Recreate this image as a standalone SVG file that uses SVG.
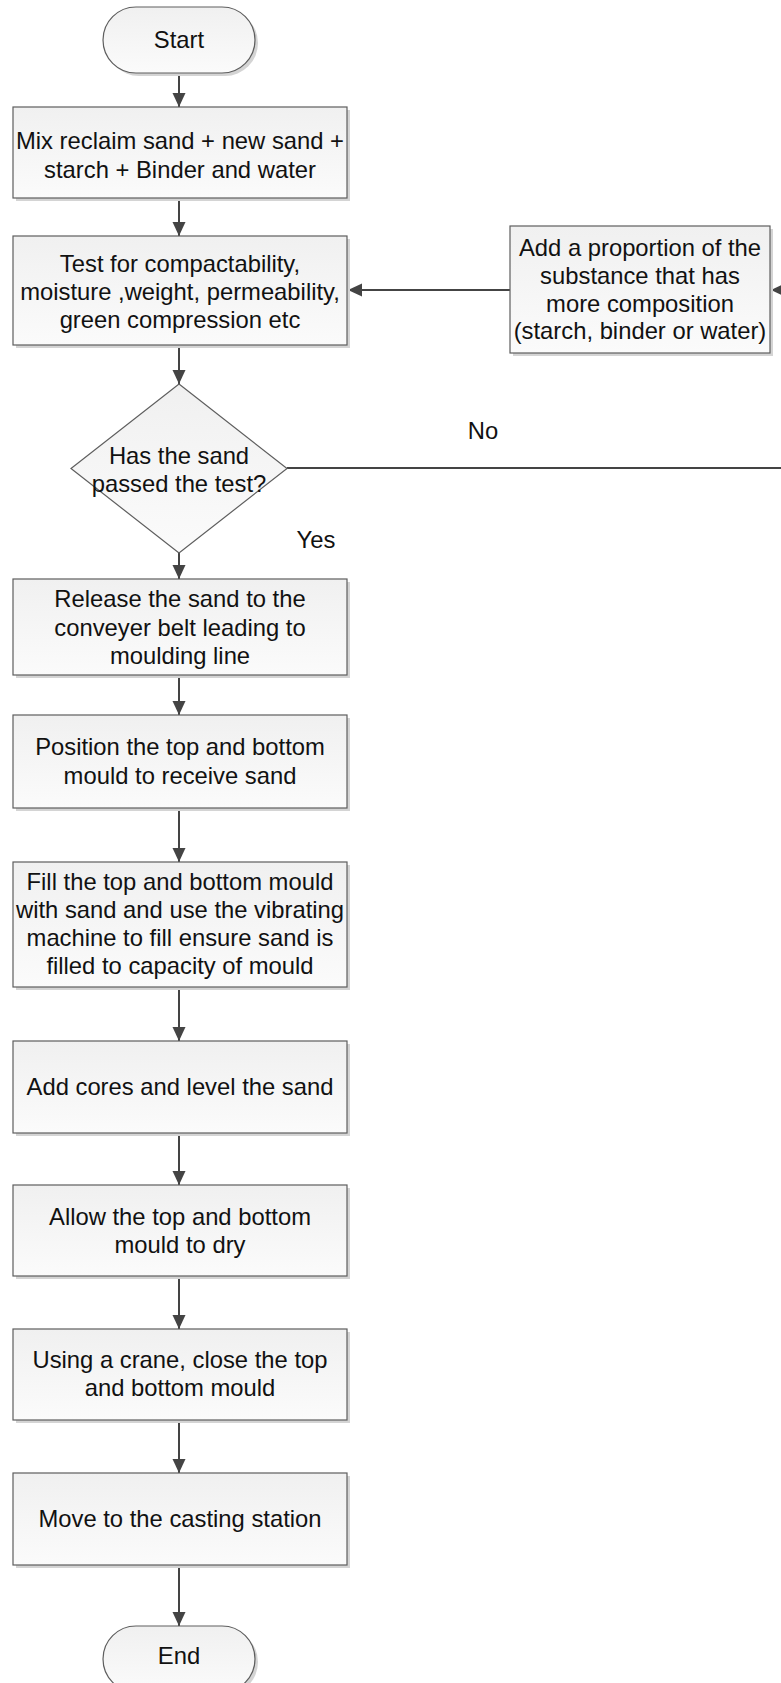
<svg xmlns="http://www.w3.org/2000/svg" width="781" height="1683" viewBox="0 0 781 1683">
  <style>
    .shape { stroke: #5e5e5e; stroke-width: 1.2; fill: url(#fillGrad); }
    .shadow { fill: #d4d4d4; stroke: none; }
    .label { font-family: "Liberation Sans", Arial, sans-serif; font-size: 23.8px; fill: #111; text-anchor: middle; }
    .conn { stroke: #444; stroke-width: 2; fill: none; }
  </style>
  <defs>
    <linearGradient id="fillGrad" x1="0" y1="0" x2="0" y2="1">
      <stop offset="0" stop-color="#f0f0f0"/>
      <stop offset="1" stop-color="#fbfbfb"/>
    </linearGradient>
    <marker id="arrow" markerUnits="userSpaceOnUse" markerWidth="15" markerHeight="15" viewBox="0 0 15 15" refX="14" refY="7.5" orient="auto">
      <path d="M0,1 L14,7.5 L0,14 Z" fill="#444"/>
    </marker>
  </defs>

  <!-- connectors -->
  <g id="connectors">
    <line class="conn" x1="179" y1="73" x2="179" y2="107" marker-end="url(#arrow)"/>
    <line class="conn" x1="179" y1="198" x2="179" y2="236" marker-end="url(#arrow)"/>
    <line class="conn" x1="179" y1="345" x2="179" y2="384" marker-end="url(#arrow)"/>
    <line class="conn" x1="179" y1="553" x2="179" y2="579" marker-end="url(#arrow)"/>
    <line class="conn" x1="179" y1="675" x2="179" y2="715" marker-end="url(#arrow)"/>
    <line class="conn" x1="179" y1="808" x2="179" y2="862" marker-end="url(#arrow)"/>
    <line class="conn" x1="179" y1="987" x2="179" y2="1041" marker-end="url(#arrow)"/>
    <line class="conn" x1="179" y1="1133" x2="179" y2="1185" marker-end="url(#arrow)"/>
    <line class="conn" x1="179" y1="1276" x2="179" y2="1329" marker-end="url(#arrow)"/>
    <line class="conn" x1="179" y1="1420" x2="179" y2="1473" marker-end="url(#arrow)"/>
    <line class="conn" x1="179" y1="1565" x2="179" y2="1626" marker-end="url(#arrow)"/>
    <!-- "No" branch runs off to the right, loops back into the correction step -->
    <line class="conn" x1="287" y1="468" x2="781" y2="468"/>
    <line class="conn" x1="790" y1="290" x2="771" y2="290" marker-end="url(#arrow)"/>
    <line class="conn" x1="510" y1="290" x2="348" y2="290" marker-end="url(#arrow)"/>
    <text class="label" x="483" y="439">No</text>
    <text class="label" x="316" y="548">Yes</text>
  </g>

  <g id="start">
    <rect class="shadow" x="106" y="10" width="152" height="66" rx="33"/>
    <rect class="shape" x="103" y="7" width="152" height="66" rx="33"/>
    <text class="label" x="179" y="48">Start</text>
  </g>

  <g id="mix">
    <rect class="shadow" x="16" y="110" width="334" height="91"/>
    <rect class="shape" x="13" y="107" width="334" height="91"/>
    <text class="label" x="180" y="149">Mix reclaim sand + new sand +</text>
    <text class="label" x="180" y="178">starch + Binder and water</text>
  </g>

  <g id="test">
    <rect class="shadow" x="16" y="239" width="334" height="109"/>
    <rect class="shape" x="13" y="236" width="334" height="109"/>
    <text class="label" x="180" y="272">Test for compactability,</text>
    <text class="label" x="180" y="300">moisture ,weight, permeability,</text>
    <text class="label" x="180" y="328">green compression etc</text>
  </g>

  <g id="adjust">
    <rect class="shadow" x="513" y="229" width="260" height="127"/>
    <rect class="shape" x="510" y="226" width="260" height="127"/>
    <text class="label" x="640" y="256">Add a proportion of the</text>
    <text class="label" x="640" y="284">substance that has</text>
    <text class="label" x="640" y="312">more composition</text>
    <text class="label" x="640" y="339">(starch, binder or water)</text>
  </g>

  <g id="decision">
    <polygon class="shape" points="179,384 287,468.5 179,553 71,468.5"/>
    <text class="label" x="179" y="464">Has the sand</text>
    <text class="label" x="179" y="492">passed the test?</text>
  </g>

  <g id="release">
    <rect class="shadow" x="16" y="582" width="334" height="96"/>
    <rect class="shape" x="13" y="579" width="334" height="96"/>
    <text class="label" x="180" y="607">Release the sand to the</text>
    <text class="label" x="180" y="636">conveyer belt leading to</text>
    <text class="label" x="180" y="664">moulding line</text>
  </g>

  <g id="position">
    <rect class="shadow" x="16" y="718" width="334" height="93"/>
    <rect class="shape" x="13" y="715" width="334" height="93"/>
    <text class="label" x="180" y="755">Position the top and bottom</text>
    <text class="label" x="180" y="784">mould to receive sand</text>
  </g>

  <g id="fill">
    <rect class="shadow" x="16" y="865" width="334" height="125"/>
    <rect class="shape" x="13" y="862" width="334" height="125"/>
    <text class="label" x="180" y="890">Fill the top and bottom mould</text>
    <text class="label" x="180" y="918">with sand and use the vibrating</text>
    <text class="label" x="180" y="946">machine to fill ensure sand is</text>
    <text class="label" x="180" y="974">filled to capacity of mould</text>
  </g>

  <g id="cores">
    <rect class="shadow" x="16" y="1044" width="334" height="92"/>
    <rect class="shape" x="13" y="1041" width="334" height="92"/>
    <text class="label" x="180" y="1095">Add cores and level the sand</text>
  </g>

  <g id="dry">
    <rect class="shadow" x="16" y="1188" width="334" height="91"/>
    <rect class="shape" x="13" y="1185" width="334" height="91"/>
    <text class="label" x="180" y="1225">Allow the top and bottom</text>
    <text class="label" x="180" y="1253">mould to dry</text>
  </g>

  <g id="close">
    <rect class="shadow" x="16" y="1332" width="334" height="91"/>
    <rect class="shape" x="13" y="1329" width="334" height="91"/>
    <text class="label" x="180" y="1368">Using a crane, close the top</text>
    <text class="label" x="180" y="1396">and bottom mould</text>
  </g>

  <g id="move">
    <rect class="shadow" x="16" y="1476" width="334" height="92"/>
    <rect class="shape" x="13" y="1473" width="334" height="92"/>
    <text class="label" x="180" y="1527">Move to the casting station</text>
  </g>

  <g id="end">
    <rect class="shadow" x="106" y="1629" width="152" height="66" rx="33"/>
    <rect class="shape" x="103" y="1626" width="152" height="66" rx="33"/>
    <text class="label" x="179" y="1664">End</text>
  </g>
</svg>
